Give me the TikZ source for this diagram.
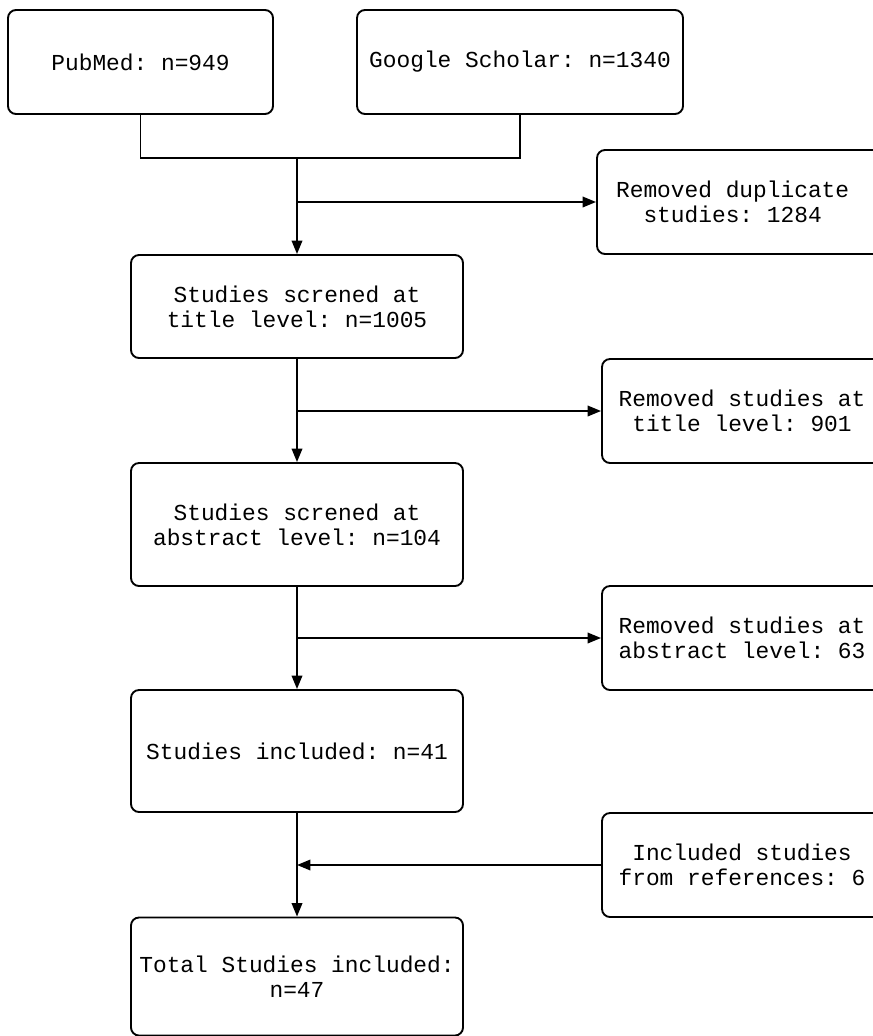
\documentclass[tikz,border=0pt]{standalone}
\usepackage{fontspec}
\setmonofont{Liberation Mono}
\usetikzlibrary{arrows.meta, calc}

\tikzset{
    flowbox/.style={draw, rounded corners=0.24cm, line width=1.6pt, align=center,
        inner sep=0pt, font=\ttfamily\fontsize{19.5}{21.3}\selectfont},
    flowline/.style={line width=1.6pt},
    flowarrow/.style={line width=1.6pt, -{Triangle[length=11.5pt, width=9pt]}}
}

\begin{document}
\begin{tikzpicture}[x=0.03cm, y=-0.03cm]
        \useasboundingbox (0, 0) rectangle (873, 1036);
        \begin{scope}
            % sources
            \node [flowbox, minimum width=265*0.03cm, minimum height=104*0.03cm] (pub) at (140.5, 62) {PubMed: n=949};
            \node [flowbox, minimum width=326*0.03cm, minimum height=104*0.03cm] (goo) at (520, 62) {Google Scholar: n=1340};

            % main column
            \node [flowbox, minimum width=332*0.03cm, minimum height=103*0.03cm] (title) at (297, 306.5) {Studies screned at\\title level: n=1005};
            \node [flowbox, minimum width=332*0.03cm, minimum height=123*0.03cm] (abs) at (297, 524.5) {Studies screned at\\abstract level: n=104};
            \node [flowbox, minimum width=332*0.03cm, minimum height=122*0.03cm] (inc) at (297, 751) {Studies included: n=41};
            \node [flowbox, minimum width=332*0.03cm, minimum height=118*0.03cm] (tot) at (297, 976.5) {Total Studies included:\\n=47};

            % side column
            \node [flowbox, minimum width=285*0.03cm, minimum height=104*0.03cm] (dup) at (739.5, 202) {Removed duplicate\hphantom{0}\\studies: 1284\hphantom{0}};
            \node [flowbox, minimum width=280*0.03cm, minimum height=104*0.03cm] (rtitle) at (742, 411) {Removed studies at\\title level: 901};
            \node [flowbox, minimum width=280*0.03cm, minimum height=104*0.03cm] (rabs) at (742, 638) {Removed studies at\\abstract level: 63};
            \node [flowbox, minimum width=280*0.03cm, minimum height=104*0.03cm] (ref) at (742, 865) {Included studies\\from references: 6};

            \coordinate (jn) at (297, 158);

            \draw [flowline] (pub.south) |- (jn) -| (goo.south);
            \draw [flowarrow] (jn) -- (title.north);
            \draw [flowarrow] (jn |- dup.west) -- (dup.west);

            \draw [flowarrow] (title.south) -- (abs.north);
            \draw [flowarrow] (title.south |- rtitle.west) -- (rtitle.west);

            \draw [flowarrow] (abs.south) -- (inc.north);
            \draw [flowarrow] (abs.south |- rabs.west) -- (rabs.west);

            \draw [flowarrow] (inc.south) -- (tot.north);
            \draw [flowarrow] (ref.west) -- (ref.west -| inc.south);
        \end{scope}
    \end{tikzpicture}
\end{document}
